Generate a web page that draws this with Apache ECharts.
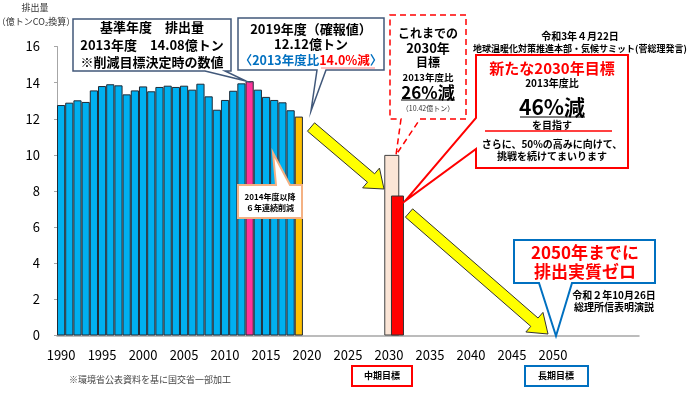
<!DOCTYPE html>
<html>
<head>
<meta charset="utf-8">
<script src="https://cdn.jsdelivr.net/npm/echarts@6/dist/echarts.min.js"></script>
<style>
html,body{margin:0;padding:0;background:#fff;}
#c{width:690px;height:394px;}
</style>
</head>
<body>
<div id="c"></div>
<script>
// ---- data ----
const years = [];
for (let y = 1990; y <= 2060; y++) years.push(String(y));
const emissionYears = ['1990','1991','1992','1993','1994','1995','1996','1997','1998','1999',
  '2000','2001','2002','2003','2004','2005','2006','2007','2008','2009',
  '2010','2011','2012','2013','2014','2015','2016','2017','2018','2019'];
const emissions = [12.76,12.89,13.02,12.93,13.57,13.81,13.91,13.85,13.35,13.57,
  13.79,13.52,13.76,13.83,13.76,13.83,13.61,13.94,13.24,12.50,
  13.04,13.55,13.96,14.08,13.61,13.21,13.04,12.91,12.47,12.12];
const targetYear = '2030';
const oldTarget2030 = 10.0;
const newTarget2030 = 7.75;
const yTicks = [0,2,4,6,8,10,12,14,16];

// ---- styles ----
const FONT = '"Noto Sans CJK JP", "Noto Sans", sans-serif';
const BLUE = '#00B0F0', PINK = '#FF3399', GOLD = '#FFC000';

const mainData = years.map(y => {
  const i = emissionYears.indexOf(y);
  if (i < 0) return null;
  let c = BLUE;
  if (y === '2013') c = PINK;
  if (y === '2019') c = GOLD;
  return { value: emissions[i], itemStyle: { color: c } };
});
const oldData = years.map(y => y === targetYear ? oldTarget2030 : null);
const newData = years.map(y => y === targetYear ? newTarget2030 : null);
const blank = years.map(() => null);

function arrow(tx, ty, px, py, sw, hw, hl) {
  const dx = px - tx, dy = py - ty, L = Math.hypot(dx, dy);
  const ux = dx / L, uy = dy / L, nx = -uy, ny = ux;
  const bx = px - ux * hl, by = py - uy * hl;
  return [[tx + nx * sw, ty + ny * sw], [bx + nx * sw, by + ny * sw], [bx + nx * hw, by + ny * hw],
          [px, py], [bx - nx * hw, by - ny * hw], [bx - nx * sw, by - ny * sw], [tx - nx * sw, ty - ny * sw]];
}
function txt(x, y, text, size, color, bold, extra) {
  return Object.assign({
    type: 'text', x: x, y: y, z: 120,
    style: {
      text: text, font: (bold ? 'bold ' : '') + size + 'px ' + FONT, fill: color || '#000',
      textAlign: 'center', textVerticalAlign: 'middle'
    }
  }, extra || {});
}
function poly(points, stroke, lw, dash, z) {
  return { type: 'polygon', z: z || 100, shape: { points: points },
    style: { fill: '#fff', stroke: stroke, lineWidth: lw, lineDash: dash || null } };
}
function line(x1, y1, x2, y2, color, lw) {
  return { type: 'line', z: 121, shape: { x1: x1, y1: y1, x2: x2, y2: y2 }, style: { stroke: color, lineWidth: lw } };
}

const graphics = [
  // axis name
  txt(35, 8, '排出量', 9, '#333', false),
  txt(36, 22, '（億トンCO₂換算）', 9, '#333', false),
  // callout 1
  poly([[73,19],[231,19],[231,71],[225,71],[246,81],[205,71],[73,71]], '#41587A', 1.5),
  txt(152, 27, '基準年度　排出量', 13, '#000', true),
  txt(152, 45, '2013年度　14.08億トン', 13, '#000', true),
  txt(152, 62, '※削減目標決定時の数値', 13, '#000', true),
  // callout 2
  poly([[238,18],[384,18],[384,70],[326,70],[311,111],[317,70],[238,70]], '#41587A', 1.5),
  txt(311, 29, '2019年度（確報値）', 13, '#000', true),
  txt(311, 44, '12.12億トン', 13, '#000', true),
  { type: 'text', x: 311, y: 60, z: 120, style: {
      text: '{b|〈2013年度比}{r|14.0%減}{b|〉}', textAlign: 'center', textVerticalAlign: 'middle',
      rich: { b: { font: 'bold 12.5px ' + FONT, fill: '#0070C0' }, r: { font: 'bold 12.5px ' + FONT, fill: '#FF0000' } } } },
  line(321, 68, 375, 68, '#FF8080', 1),
  // dashed old-target box
  poly([[390,15],[466,15],[466,119],[420,119],[396,155],[401,119],[390,119]], '#FF0000', 1.5, [6,4]),
  txt(428, 33, 'これまでの', 12, '#000', true),
  txt(428, 48, '2030年', 13, '#000', true),
  txt(428, 62, '目標', 12, '#000', true),
  txt(428, 77, '2013年度比', 9.5, '#000', true),
  txt(428, 93, '26%減', 17, '#000', true),
  line(401, 100, 455, 100, '#000', 1),
  txt(428, 108, '（10.42億トン）', 7, '#333', false),
  // new target box
  txt(580, 36, '令和3年４月22日', 10, '#000', true),
  txt(580, 49, '地球温暖化対策推進本部・気候サミット(菅総理発言)', 9, '#000', true),
  poly([[476,55],[628,55],[628,168],[476,168],[476,149],[405,201],[476,118]], '#FF0000', 2),
  txt(552, 68, '新たな2030年目標', 15, '#FF0000', true),
  txt(552, 83, '2013年度比', 10, '#000', true),
  txt(552, 107, '46%減', 21, '#000', true),
  line(520, 117, 585, 117, '#000', 1.2),
  txt(552, 125, 'を目指す', 10, '#000', true),
  line(485, 131, 612, 131, '#FF0000', 1.5),
  txt(552, 144, 'さらに、50%の高みに向けて、', 10, '#000', true),
  txt(552, 156, '挑戦を続けてまいります', 10, '#000', true),
  // 2050 box
  poly([[514,240],[655,240],[655,283],[572,283],[556,336],[539,283],[514,283]], '#0070C0', 2),
  txt(585, 253, '2050年までに', 17, '#FF0000', true),
  txt(585, 272, '排出実質ゼロ', 17, '#FF0000', true),
  txt(614, 295, '令和２年10月26日', 10, '#000', true),
  txt(614, 307, '総理所信表明演説', 10, '#000', true),
  // 2014 box
  poly([[238,185],[276,185],[273,153],[290,185],[302,185],[302,218],[238,218]], '#F4B183', 2),
  txt(270, 197, '2014年度以降', 8, '#000', true),
  txt(270, 208, '６年連続削減', 8, '#000', true),
  // arrows
  { type: 'polygon', z: 110, shape: { points: arrow(311,127,384,189,5.5,13,17) },
    style: { fill: '#FFFF00', stroke: '#333', lineWidth: 1 } },
  { type: 'polygon', z: 110, shape: { points: arrow(409,213,548,334,5.5,13,18) },
    style: { fill: '#FFFF00', stroke: '#333', lineWidth: 1 } },
  // bottom labels
  { type: 'rect', z: 100, shape: { x: 352, y: 366, width: 60, height: 20 }, style: { fill: '#fff', stroke: '#FF0000', lineWidth: 2 } },
  txt(382, 376, '中期目標', 9, '#000', true),
  { type: 'rect', z: 100, shape: { x: 525, y: 366, width: 63, height: 20 }, style: { fill: '#fff', stroke: '#0070C0', lineWidth: 2 } },
  txt(556, 376, '長期目標', 9, '#000', true),
  // footnote
  { type: 'text', x: 69, y: 380, z: 120, style: { text: '※環境省公表資料を基に国交省一部加工', font: '9px ' + FONT, fill: '#444', textAlign: 'left', textVerticalAlign: 'middle' } }
];

const chart = echarts.init(document.getElementById('c'), null, { renderer: 'canvas' });
chart.setOption({
  animation: false,
  backgroundColor: '#fff',
  grid: { left: 57, right: 51, top: 46.5, bottom: 58.5, containLabel: false },
  xAxis: [{
    type: 'category', data: years, boundaryGap: true,
    axisLine: { show: true, lineStyle: { color: '#A6A6A6', width: 1.5 } },
    axisTick: { show: false },
    axisLabel: {
      color: '#000', fontSize: 13, fontFamily: FONT, margin: 13,
      interval: (i, v) => (+v % 5 === 0 && +v <= 2050)
    },
    splitLine: { show: false }
  }, {
    type: 'category', data: years, show: false, boundaryGap: true
  }],
  yAxis: {
    type: 'value', min: yTicks[0], max: yTicks[yTicks.length - 1], interval: 2,
    axisLine: { show: true, lineStyle: { color: '#A6A6A6', width: 1 } },
    axisTick: { show: true, length: 3, lineStyle: { color: '#A6A6A6' } },
    axisLabel: { color: '#000', fontSize: 13, fontFamily: FONT, margin: 17 },
    splitLine: { show: false }
  },
  series: [{
    type: 'bar', xAxisIndex: 0, data: mainData, barCategoryGap: '0%', barGap: '0%',
    itemStyle: { borderColor: '#1F2A36', borderWidth: 1 }
  }, {
    type: 'bar', xAxisIndex: 1, data: blank, barWidth: 23, barGap: '-55.33%', silent: true
  }, {
    type: 'bar', xAxisIndex: 1, data: oldData, barWidth: 15, barGap: '-55.33%',
    itemStyle: { color: '#FBE5D6', borderColor: '#404040', borderWidth: 1 }
  }, {
    type: 'bar', xAxisIndex: 1, data: newData, barWidth: 13, barGap: '-55.33%',
    itemStyle: { color: '#FF0000', borderColor: '#333', borderWidth: 1 }
  }],
  graphic: { elements: graphics }
});
</script>
</body>
</html>
